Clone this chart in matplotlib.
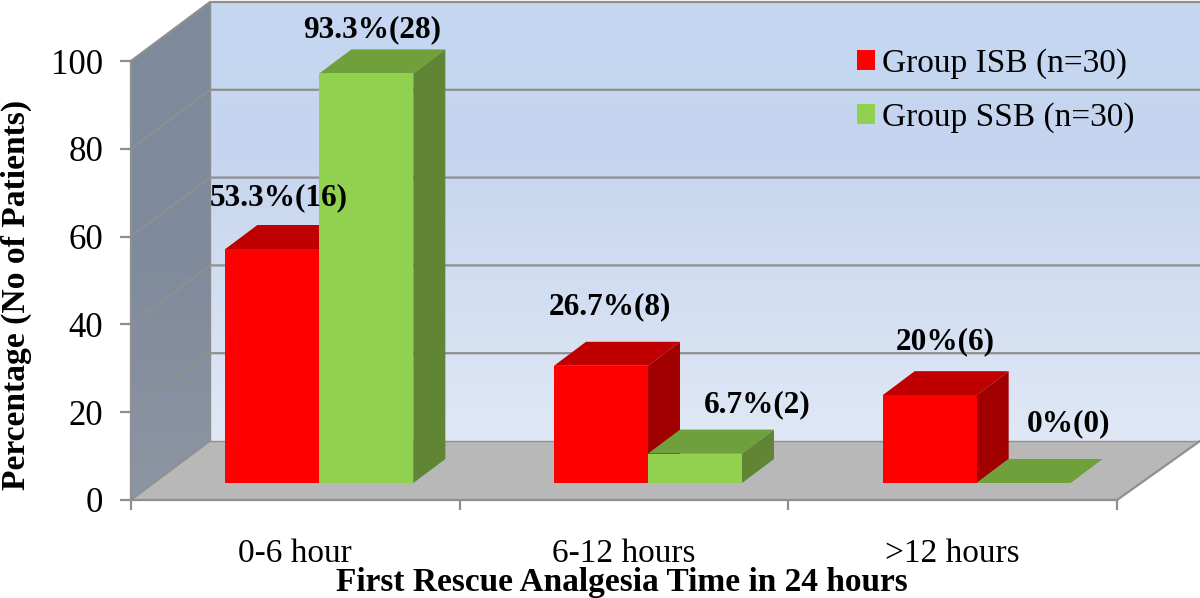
import numpy as np
import matplotlib
matplotlib.use('Agg')
import matplotlib.pyplot as plt
from matplotlib.patches import Polygon, Patch
from matplotlib.colors import LinearSegmentedColormap

categories = ['0-6 hour', '6-12 hours', '>12 hours']
isb_values = [53.3, 26.7, 20]
ssb_values = [93.3, 6.7, 0]
isb_labels = ['53.3%(16)', '26.7%(8)', '20%(6)']
ssb_labels = ['93.3%(28)', '6.7%(2)', '0%(0)']
y_ticks = [0, 20, 40, 60, 80, 100]

# label shift from the back of the bar top, in pixels (placed by hand in the original)
isb_nudge = [(-10, 27), (-7, 35), (0, 29)]
ssb_nudge = [(-10, 20), (46, 25), (29, 35)]

plt.rcParams['font.family'] = ['Liberation Serif', 'DejaVu Serif']

W, H = 1200, 598
fig = plt.figure(figsize=(W / 100, H / 100), dpi=100)
ax = fig.add_axes([131 / W, (H - 500) / H, 986 / W, 439 / H])
ax.set_xlim(0, 3)
ax.set_ylim(0, 100)

# pixels to data units
px_x = 3 / 986
px_y = 100 / 439

# depth of the fake 3d box
wall_dx = 79 * px_x
wall_dy = 59 * px_y
right_end = 3 + 83 * px_x

# bars
bar_w = 94 * px_x
bar_dx = 32 * px_x
bar_dy = 24 * px_y
front_dx = 24 * px_x
front_dy = 17 * px_y

edge_col = '#8f8f8f'


def poly(pts, color, z, **kw):
    p = Polygon(pts, closed=True, facecolor=color, edgecolor=kw.pop('ec', 'none'),
                clip_on=False, zorder=z, **kw)
    ax.add_patch(p)
    return p


def gradient(pts, colors, z):
    cmap = LinearSegmentedColormap.from_list('g', colors)
    xs = [p[0] for p in pts]
    ys = [p[1] for p in pts]
    im = ax.imshow(np.linspace(0, 1, 256).reshape(-1, 1), cmap=cmap, aspect='auto', origin='upper',
                   extent=(min(xs), max(xs), min(ys), max(ys)), zorder=z)
    clip = Polygon(pts, closed=True, facecolor='none', edgecolor='none', transform=ax.transData)
    im.set_clip_box(fig.bbox)
    im.set_clip_path(clip)


# walls and floor
gradient([(wall_dx, wall_dy), (right_end, wall_dy), (right_end, 100 + wall_dy), (wall_dx, 100 + wall_dy)],
         ['#c5d8f1', '#c6d5ef', '#d2def1', '#e0e8f6'], 1)
gradient([(0, 0), (wall_dx, wall_dy), (wall_dx, 100 + wall_dy), (0, 100)],
         ['#7d8b9d', '#7f8a9c', '#8e95a3'], 1)
poly([(0, 0), (3, 0), (right_end, wall_dy), (wall_dx, wall_dy)], '#b8b8b8', 2)

# gridlines running over the left wall and the back wall
for t in y_ticks[1:]:
    ax.plot([0, wall_dx, right_end], [t, t + wall_dy, t + wall_dy], color=edge_col, lw=1.6,
            clip_on=False, zorder=3, solid_joinstyle='miter')
ax.plot([wall_dx, wall_dx], [wall_dy, 100 + wall_dy], color=edge_col, lw=1.0, clip_on=False, zorder=3)
ax.plot([wall_dx, right_end], [wall_dy, wall_dy], color=edge_col, lw=1.0, clip_on=False, zorder=3)
ax.plot([0, wall_dx], [0, wall_dy], color=edge_col, lw=1.2, clip_on=False, zorder=3)
ax.plot([3, right_end], [0, wall_dy], color=edge_col, lw=1.6, clip_on=False, zorder=3)


def bar3d(left, val, face, top, side, z):
    x0 = left
    x1 = left + bar_w
    y0 = front_dy
    y1 = front_dy + val
    poly([(x0, y1), (x1, y1), (x1 + bar_dx, y1 + bar_dy), (x0 + bar_dx, y1 + bar_dy)], top, z)
    if val > 0:
        poly([(x1, y0), (x1 + bar_dx, y0 + bar_dy), (x1 + bar_dx, y1 + bar_dy), (x1, y1)], side, z)
        poly([(x0, y0), (x1, y0), (x1, y1), (x0, y1)], face, z)
    return x0 + bar_w / 2 + bar_dx / 2, y1 + bar_dy


for i in range(len(categories)):
    centre = i + 0.5 + front_dx
    tx, ty = bar3d(centre - bar_w, isb_values[i], '#ff0000', '#c00000', '#a00000', 5 + i)
    ax.annotate(isb_labels[i], xy=(tx, ty), xytext=isb_nudge[i], textcoords='offset pixels',
                ha='center', va='center', fontsize=22.5, fontweight='bold', color='black',
                annotation_clip=False, zorder=20)
    tx, ty = bar3d(centre, ssb_values[i], '#92d050', '#70a03c', '#608535', 5 + i)
    ax.annotate(ssb_labels[i], xy=(tx, ty), xytext=ssb_nudge[i], textcoords='offset pixels',
                ha='center', va='center', fontsize=22.5, fontweight='bold', color='black',
                annotation_clip=False, zorder=20)

# axes
ax.set_yticks(y_ticks)
ax.set_xticks([0, 1, 2, 3])
ax.set_xticklabels([])
ax.set_xticks([0.5, 1.5, 2.5], minor=True)
ax.set_xticklabels(categories, minor=True)
ax.tick_params(axis='y', length=8, width=1.6, color=edge_col, labelsize=25, pad=12)
ax.tick_params(axis='x', which='major', length=7.5, width=1.6, color=edge_col)
ax.tick_params(axis='x', which='minor', length=0, labelsize=24, pad=28)
for s in ['top', 'right']:
    ax.spines[s].set_visible(False)
for s in ['left', 'bottom']:
    ax.spines[s].set_color(edge_col)
    ax.spines[s].set_linewidth(1.6)
    ax.spines[s].set_zorder(4)

fig.text(16 / W, 1 - 295 / H, 'Percentage (No of Patients)', rotation=90, ha='center', va='center',
         fontsize=24.2, fontweight='bold')
fig.text(622 / W, 1 - 582 / H, 'First Rescue Analgesia Time in 24 hours', ha='center', va='center',
         fontsize=24, fontweight='bold')

leg = ax.legend(handles=[Patch(facecolor='#ff0000', label='Group ISB (n=30)'),
                         Patch(facecolor='#92d050', label='Group SSB (n=30)')],
                loc='upper left', bbox_to_anchor=((827 - 131) / 986, 1.097), frameon=False, fontsize=24,
                handlelength=0.55, handleheight=0.55, handletextpad=0.21, labelspacing=0.69)
leg.set_zorder(25)

fig.savefig('out.png', dpi=100)
